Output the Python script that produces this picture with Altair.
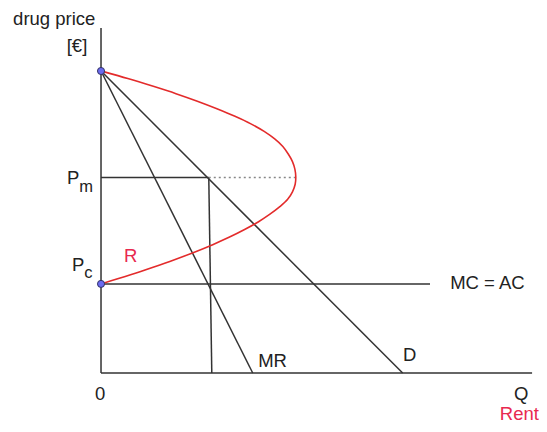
import altair as alt
import pandas as pd

# ---- data (Q units horizontally, price units vertically) ----
seg_names = ["y-axis", "x-axis", "D", "MR", "MC = AC", "Pm", "Qm"]
seg_x  = [0.0, 0.0, 0.0, 0.0, 0.0, 0.0, 3.58]
seg_y  = [0.0, 0.0, 10.0, 10.0, 2.95, 6.47, 6.47]
seg_x2 = [0.0, 14.32, 10.02, 5.04, 10.93, 3.58, 3.68]
seg_y2 = [11.42, 0.0, 0.0, 0.0, 2.95, 6.47, 0.0]

dot_x  = [3.58]
dot_y  = [6.47]
dot_x2 = [6.45]

# Rent curve: rent on horizontal axis, price vertical
rent_price = [10.03, 10.0, 9.75, 9.5, 9.25, 9.0, 8.75, 8.5, 8.25, 8.0, 7.75, 7.5, 7.25, 7.0,
              6.75, 6.5, 6.25, 6.0, 5.75, 5.5, 5.25, 5.0, 4.75, 4.5, 4.25, 4.0, 3.75, 3.5,
              3.25, 2.95]
rent_value = [-0.11, 0.0, 0.89, 1.71, 2.49, 3.2, 3.85, 4.45, 4.98, 5.42, 5.77, 6.04, 6.22, 6.36,
              6.44, 6.47, 6.45, 6.36, 6.2, 5.93, 5.6, 5.22, 4.77, 4.27, 3.71, 3.1, 2.44, 1.73,
              0.98, 0.0]

pt_x = [0.0, 0.0]
pt_y = [10.0, 2.95]

lab_text = ["drug price", "[€]", "P", "P", "0", "Q", "MR", "D", "MC = AC"]
lab_x    = [-2.92, -1.14, -1.13, -0.96, -0.2, 13.72, 5.22, 10.03, 11.6]
lab_y    = [11.52, 10.63, 6.26, 3.38, -0.89, -0.89, 0.2, 0.4, 2.78]

sub_text = ["m", "c"]
sub_x    = [-0.72, -0.56]
sub_y    = [6.0, 3.15]

red_text = ["R", "Rent"]
red_x    = [0.76, 13.25]
red_y    = [3.68, -1.57]

# ---- tables ----
segs = pd.DataFrame({"name": seg_names, "x": seg_x, "y": seg_y, "x2": seg_x2, "y2": seg_y2})
dots = pd.DataFrame({"x": dot_x, "y": dot_y, "x2": dot_x2})
curve = pd.DataFrame({"rent": rent_value, "price": rent_price, "i": list(range(len(rent_price)))})
pts = pd.DataFrame({"x": pt_x, "y": pt_y})
labs = pd.DataFrame({"t": lab_text, "x": lab_x, "y": lab_y})
subs = pd.DataFrame({"t": sub_text, "x": sub_x, "y": sub_y})
reds = pd.DataFrame({"t": red_text, "x": red_x, "y": red_y})

xs = alt.Scale(domain=[-3.09, 14.55], nice=False, zero=False)
ys = alt.Scale(domain=[-1.689, 12.086], nice=False, zero=False)
X = lambda f: alt.X(f, type="quantitative", scale=xs, axis=None)
Y = lambda f: alt.Y(f, type="quantitative", scale=ys, axis=None)

FONT = "Liberation Sans"

lines = alt.Chart(segs).mark_rule(color="#333333", strokeWidth=1.5).encode(
    x=X("x"), y=Y("y"), x2="x2", y2="y2")

dotted = alt.Chart(dots).mark_rule(color="#888888", strokeWidth=1.5, strokeDash=[2, 3]).encode(
    x=X("x"), y=Y("y"), x2="x2")

rent = alt.Chart(curve).mark_line(color="#e32b2b", strokeWidth=1.6, interpolate="catmull-rom").encode(
    x=X("rent"), y=Y("price"), order="i:Q")

points = alt.Chart(pts).mark_point(filled=True, size=50, fill="#6b6bf0", stroke="#333366",
                                   strokeWidth=1, opacity=1).encode(x=X("x"), y=Y("y"))

labels = alt.Chart(labs).mark_text(font=FONT, fontSize=18.5, color="#222222", align="left",
                                   baseline="alphabetic").encode(x=X("x"), y=Y("y"), text="t:N")

sublabels = alt.Chart(subs).mark_text(font=FONT, fontSize=16.5, color="#222222", align="left",
                                      baseline="alphabetic").encode(x=X("x"), y=Y("y"), text="t:N")

redlabels = alt.Chart(reds).mark_text(font=FONT, fontSize=18.5, color="#e8294f", align="left",
                                      baseline="alphabetic").encode(x=X("x"), y=Y("y"), text="t:N")

chart = alt.layer(lines, dotted, rent, points, labels, sublabels, redlabels).properties(
    width=531, height=416, autosize=alt.AutoSizeParams(type="none"), padding=0,
    background="white"
).configure_view(stroke=None)

chart.save("out.html", embed_options={"renderer": "svg", "actions": False})
